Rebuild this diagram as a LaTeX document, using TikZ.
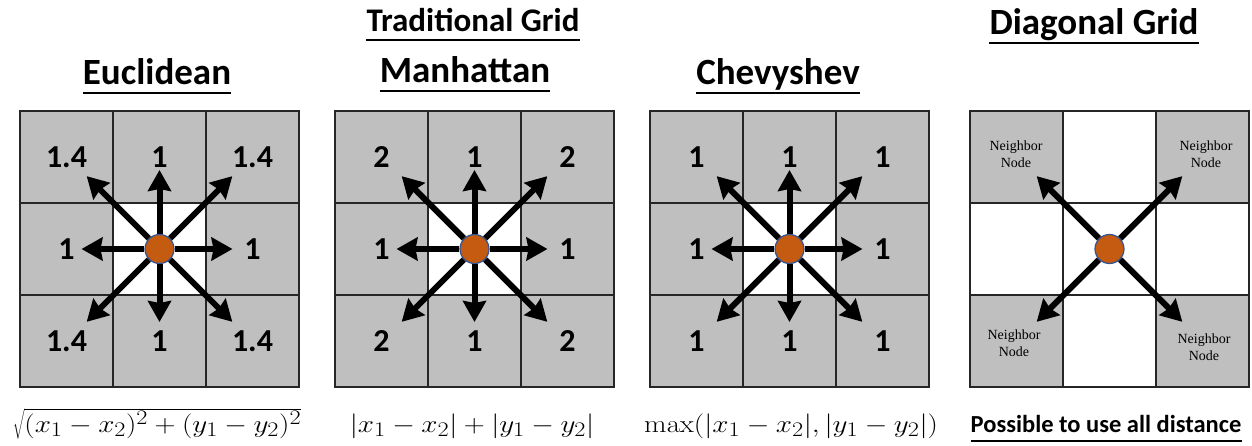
\documentclass[tikz,border=0pt]{standalone}
\usepackage[no-math]{fontspec}
\setmainfont{Carlito}
\newfontfamily\nodeserif{Liberation Serif}
\usepackage{tikz}
\usetikzlibrary{arrows.meta,positioning,calc}
\definecolor{cellgray}{HTML}{BFBFBF}
\definecolor{dotorange}{HTML}{C55A11}
\definecolor{dotblue}{HTML}{2F5597}

\begin{document}
\begin{tikzpicture}[x=1pt,y=1pt,
  every node/.style={inner sep=0pt},
  title/.style={font=\fontsize{37}{42}\selectfont\bfseries,anchor=base},
  uline/.style={line width=2pt},
  gridline/.style={draw=black!85,line width=1.8pt},
  cost/.style={font=\fontsize{32}{34}\selectfont\bfseries},
  nbr/.style={font=\fontsize{14}{16.5}\selectfont\nodeserif,align=center},
  formula/.style={font=\fontsize{32}{38}\selectfont,anchor=base,xscale=1.17,transform shape},
  dot/.style={circle,fill=dotorange,draw=dotblue,line width=1.2pt,minimum size=29pt},
  arr/.style={-{Stealth[length=21pt,width=23pt,inset=2pt]},line width=6pt}
]
\useasboundingbox (0,0) rectangle (1252,-446);

% Headings
\node[title,font=\fontsize{33}{38}\selectfont\bfseries] (trad) at (473,-32) {Traditional Grid};
\node[title] (diag) at (1094,-35) {Diagonal Grid};
\node[title] (euT) at (157,-85) {Euclidean};
\node[title] (maT) at (465,-83) {Manhattan};
\node[title] (chT) at (778,-85) {Chevyshev};
\node[title,font=\fontsize{24.5}{28}\selectfont\bfseries] (allT) at (1106,-432) {Possible to use all distance};
\foreach \t in {trad,diag,euT,maT,chT,allT}
  \draw[uline] ([yshift=-8.5pt]\t.base west) -- ([yshift=-8.5pt]\t.base east);

% Panel 1 — Euclidean
\begin{scope}[shift={(20,-111)}]
  \fill[cellgray] (0,0) rectangle (279,-276);
  \fill[white] (93,-92) rectangle (186,-184);
  \foreach \k in {93,186} \draw[gridline] (\k,0) -- (\k,-276);
  \foreach \k in {92,184} \draw[gridline] (0,-\k) -- (279,-\k);
  \draw[gridline] (0,0) rectangle (279,-276);
  \foreach \n/\px/\py/\t in {nw/46.5/46/1.4,n/139.5/46/1,ne/232.5/46/1.4,
      w/46.5/138/1,e/232.5/138/1,sw/46.5/230/1.4,s/139.5/230/1,se/232.5/230/1.4}
    \node[cost] (eu-\n) at (\px,-\py) {\t};
  \node[dot] (euC) at (139.5,-138) {};
\end{scope}

% Panel 2 — Manhattan
\begin{scope}[shift={(335,-111)}]
  \fill[cellgray] (0,0) rectangle (279,-276);
  \fill[white] (93,-92) rectangle (186,-184);
  \foreach \k in {93,186} \draw[gridline] (\k,0) -- (\k,-276);
  \foreach \k in {92,184} \draw[gridline] (0,-\k) -- (279,-\k);
  \draw[gridline] (0,0) rectangle (279,-276);
  \foreach \n/\px/\py/\t in {nw/46.5/46/2,n/139.5/46/1,ne/232.5/46/2,
      w/46.5/138/1,e/232.5/138/1,sw/46.5/230/2,s/139.5/230/1,se/232.5/230/2}
    \node[cost] (ma-\n) at (\px,-\py) {\t};
  \node[dot] (maC) at (139.5,-138) {};
\end{scope}

% Panel 3 — Chevyshev
\begin{scope}[shift={(650,-111)}]
  \fill[cellgray] (0,0) rectangle (279,-276);
  \fill[white] (93,-92) rectangle (186,-184);
  \foreach \k in {93,186} \draw[gridline] (\k,0) -- (\k,-276);
  \foreach \k in {92,184} \draw[gridline] (0,-\k) -- (279,-\k);
  \draw[gridline] (0,0) rectangle (279,-276);
  \foreach \n/\px/\py/\t in {nw/46.5/46/1,n/139.5/46/1,ne/232.5/46/1,
      w/46.5/138/1,e/232.5/138/1,sw/46.5/230/1,s/139.5/230/1,se/232.5/230/1}
    \node[cost] (ch-\n) at (\px,-\py) {\t};
  \node[dot] (chC) at (139.5,-138) {};
\end{scope}

% Panel 4 — Diagonal grid (corner neighbours only)
\begin{scope}[shift={(970,-111)}]
  \fill[white] (0,0) rectangle (279,-276);
  \foreach \cx/\cy in {0/0,186/0,0/184,186/184}
    \fill[cellgray] (\cx,-\cy) rectangle ++(93,-92);
  \foreach \k in {93,186} \draw[gridline] (\k,0) -- (\k,-276);
  \foreach \k in {92,184} \draw[gridline] (0,-\k) -- (279,-\k);
  \draw[gridline] (0,0) rectangle (279,-276);
  \node[nbr] (nb-nw) at (46,-43) {Neighbor\\Node};
  \node[nbr] (nb-ne) at (236,-43) {Neighbor\\Node};
  \node[nbr] (nb-sw) at (44,-232) {Neighbor\\Node};
  \node[nbr] (nb-se) at (234,-236) {Neighbor\\Node};
  \node[dot] (dgC) at (139.5,-138) {};
\end{scope}

% Arrow tips, then arrows out of each centre node
\foreach \p in {eu,ma,ch}{
  \foreach \d/\ang/\len in {e/0/73,ne/45/103,n/90/79,nw/135/103,
      w/180/78,sw/225/103,s/270/73,se/315/103}{
    \coordinate (\p-\d tip) at ($(\p C)+(\ang:\len)$);
    \draw[arr] (\p C) -- (\p-\d tip);
  }
}
\foreach \d/\ang in {ne/45,nw/135,sw/225,se/315}{
  \coordinate (dg-\d tip) at ($(dgC)+(\ang:103)$);
  \draw[arr] (dgC) -- (dg-\d tip);
}

% Distance formulas
\node[formula] (euF) at (157,-432) {$\sqrt{(x_1-x_2)^2+(y_1-y_2)^2}$};
\node[formula] (maF) at (472,-432) {$|x_1-x_2|+|y_1-y_2|$};
\node[formula] (chF) at (791,-432) {$\max(|x_1-x_2|,|y_1-y_2|)$};

\end{tikzpicture}
\end{document}
